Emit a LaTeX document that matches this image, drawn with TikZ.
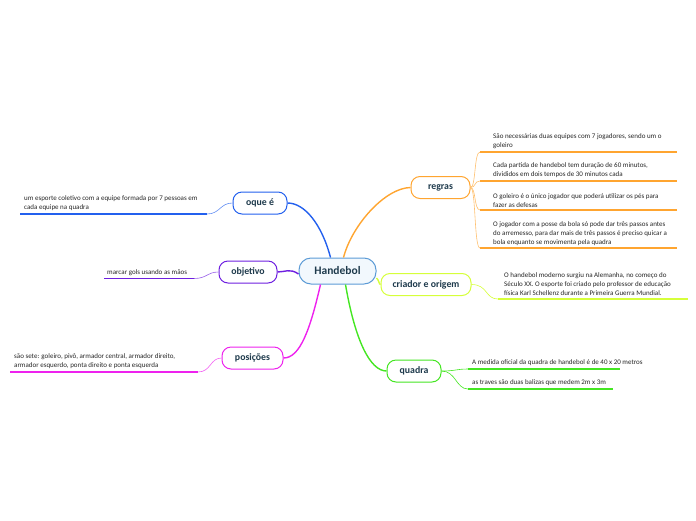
\documentclass[tikz,border=0pt]{standalone}
\usepackage{fontspec}
\setmainfont{Carlito}
\begin{document}
\begin{tikzpicture}[x=1pt,y=-1pt,
  topic/.style={draw,line width=1pt,rounded corners=9pt,fill=white,minimum height=22pt,inner sep=2pt,
    font=\fontsize{9.8}{11}\selectfont\bfseries,text=titlec},
  leaf/.style={anchor=south west,align=left,inner sep=0pt,font=\fontsize{7}{9}\selectfont,text=black!85},
  branch/.style={line width=1.4pt},
  twig/.style={line width=0.6pt},
  uline/.style={line width=1.9pt}]
\definecolor{titlec}{HTML}{1E3A4C}
\definecolor{corange}{HTML}{FFA530}
\definecolor{cyel}{HTML}{D6FF3A}
\definecolor{cgreen}{HTML}{44E622}
\definecolor{cblue}{HTML}{2360EE}
\definecolor{cpurple}{HTML}{6E1FE0}
\definecolor{cmag}{HTML}{EE22EE}
\definecolor{hbfill}{HTML}{F2F8FD}
\definecolor{hbdraw}{HTML}{5C9BD6}
\useasboundingbox (0,0) rectangle (696,520);

% central node
\node[topic,draw=hbdraw,fill=hbfill,minimum width=77pt,minimum height=26pt,rounded corners=12pt,
  font=\fontsize{11.5}{13}\selectfont\bfseries] (hb) at (337.5,271) {Handebol};

% topics
\node[topic,draw=corange,minimum width=59pt] (regras) at (440.5,187.5) {regras};
\node[topic,draw=cyel,minimum width=90pt] (criador) at (426,284.5) {criador e origem};
\node[topic,draw=cgreen,minimum width=54pt] (quadra) at (414,371) {quadra};
\node[topic,draw=cblue,minimum width=54pt] (oque) at (260,203) {oque é};
\node[topic,draw=cpurple,minimum width=58pt] (obj) at (248,272) {objetivo};
\node[topic,draw=cmag,minimum width=61pt] (pos) at (252.5,358) {posições};

% main branches
\draw[branch,corange] ([xshift=6pt]hb.north) .. controls (352,225) and (385,188) .. (regras.west);
\draw[branch,cblue] ([xshift=-7pt]hb.north) .. controls (322,225) and (305,203) .. (oque.east);
\draw[branch,cpurple] ([yshift=-3pt]hb.west) .. controls (290,268) and (285,272) .. (obj.east);
\draw[branch,cmag] ([xshift=-17pt]hb.south) .. controls (310,330) and (300,358) .. (pos.east);
\draw[branch,cgreen] ([xshift=8pt]hb.south) .. controls (355,340) and (370,371) .. (quadra.west);
\draw[branch,cyel] ([yshift=-7pt]hb.east) .. controls (379,280) and (379,284.5) .. (criador.west);

% regras leaves
\coordinate (r1a) at (480,152); \coordinate (r1b) at (677,152);
\coordinate (r2a) at (480,181); \coordinate (r2b) at (677,181);
\coordinate (r3a) at (480,210); \coordinate (r3b) at (677,210);
\coordinate (r4a) at (480,248); \coordinate (r4b) at (677,248);
\foreach \i in {1,2,3,4}{
  \draw[uline,corange] (r\i a) -- (r\i b);
  \draw[twig,corange!70] (regras.east) .. controls (476,187.5) and (474,0|-r\i a) .. (r\i a);
}
\node[leaf] (t1) at (493,149) {São necessárias duas equipes com 7 jogadores, sendo um o\\goleiro};
\node[leaf] (t2) at (493,178) {Cada partida de handebol tem duração de 60 minutos,\\divididos em dois tempos de 30 minutos cada};
\node[leaf] (t3) at (493,207.5) {O goleiro é o único jogador que poderá utilizar os pés para\\fazer as defesas};
\node[leaf] (t4) at (493,245.5) {O jogador com a posse da bola só pode dar três passos antes\\do arremesso, para dar mais de três passos é preciso quicar a\\bola enquanto se movimenta pela quadra};

% criador leaf
\coordinate (c1a) at (498,299); \coordinate (c1b) at (688,299);
\draw[uline,cyel] (c1a) -- (c1b);
\draw[twig,cyel] (criador.east) .. controls (488,284.5) and (485,299) .. (c1a);
\node[leaf] (t5) at (504,296) {O handebol moderno surgiu na Alemanha, no começo do\\Século XX. O esporte foi criado pelo professor de educação\\física Karl Schellenz durante a Primeira Guerra Mundial.};

% quadra leaves
\coordinate (q1a) at (468,369); \coordinate (q1b) at (620,369);
\coordinate (q2a) at (468,389); \coordinate (q2b) at (613,389);
\draw[uline,cgreen] (q1a) -- (q1b);
\draw[uline,cgreen] (q2a) -- (q2b);
\draw[twig,cgreen] (quadra.east) .. controls (456,371) and (456,369) .. (q1a);
\draw[twig,cgreen] (quadra.east) .. controls (456,371) and (456,389) .. (q2a);
\node[leaf] (t6) at (472,365.5) {A medida oficial da quadra de handebol é de 40  x 20 metros};
\node[leaf] (t7) at (472,386) {as traves são duas balizas que medem 2m x 3m};

% oque leaf
\coordinate (o1a) at (20,214); \coordinate (o1b) at (207,214);
\draw[uline,cblue] (o1a) -- (o1b);
\draw[twig,cblue!70] (o1b) .. controls (220,214) and (220,203) .. (oque.west);
\node[leaf] (t8) at (24,211) {um esporte coletivo com a equipe formada por 7 pessoas em\\cada equipe na  quadra};

% objetivo leaf
\coordinate (b1a) at (104,278.5); \coordinate (b1b) at (194,278.5);
\draw[uline,cpurple] (b1a) -- (b1b);
\draw[twig,cpurple!70] (b1b) .. controls (207,278.5) and (207,272) .. (obj.west);
\node[leaf] (t9) at (107,275.5) {marcar gols usando as mãos};

% posicoes leaf
\coordinate (p1a) at (10,372); \coordinate (p1b) at (198,372);
\draw[uline,cmag] (p1a) -- (p1b);
\draw[twig,cmag!70] (p1b) .. controls (211,372) and (210,358) .. (pos.west);
\node[leaf] (t10) at (14,368.5) {são sete: goleiro, pivô, armador central, armador direito,\\armador esquerdo, ponta direito e ponta esquerda};
\end{tikzpicture}
\end{document}
